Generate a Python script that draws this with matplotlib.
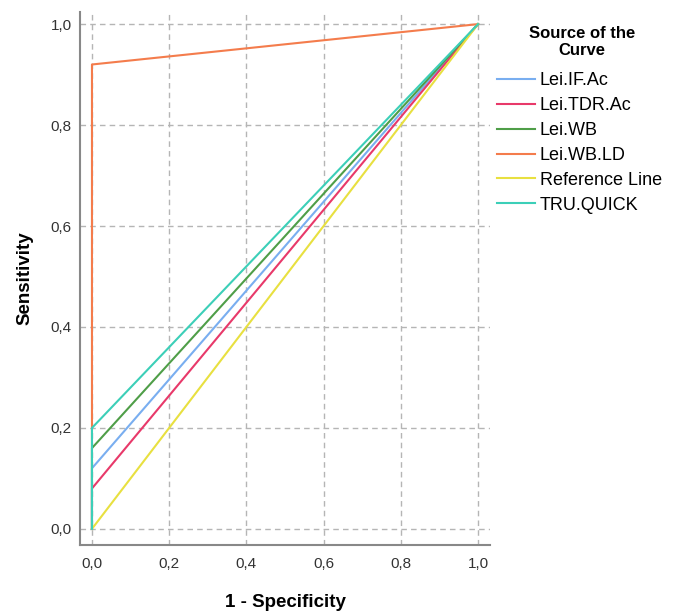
import matplotlib.pyplot as plt
import numpy as np

plt.rcParams['font.family'] = ['Liberation Sans', 'DejaVu Sans']

# ROC curves: each goes (0,0) -> (0, start) -> (1,1)
names = ["Lei.IF.Ac", "Lei.TDR.Ac", "Lei.WB", "Lei.WB.LD", "Reference Line", "TRU.QUICK"]
fpr = [[0.0, 0.0, 1.0], [0.0, 0.0, 1.0], [0.0, 0.0, 1.0],
       [0.0, 0.0, 1.0], [0.0, 1.0], [0.0, 0.0, 1.0]]
tpr = [[0.0, 0.12, 1.0], [0.0, 0.08, 1.0], [0.0, 0.16, 1.0],
       [0.0, 0.92, 1.0], [0.0, 1.0], [0.0, 0.20, 1.0]]
colors = ["#79aef0", "#e8396a", "#4f9e48", "#f47c4c", "#e8e040", "#3ccfb8"]
ticks = [0.0, 0.2, 0.4, 0.6, 0.8, 1.0]
tick_labels = ["0,0", "0,2", "0,4", "0,6", "0,8", "1,0"]

fig = plt.figure(figsize=(6.8, 6.14), dpi=100)
ax = fig.add_axes([80/680, 1-545/614, 410/680, 533/614])

for x, y, c, n in zip(fpr, tpr, colors, names):
    ax.plot(x, y, color=c, linewidth=1.5, label=n)

ax.set_xlim(-0.031, 1.031)
ax.set_ylim(-0.032, 1.024)
ax.set_xticks(ticks)
ax.set_xticklabels(tick_labels)
ax.set_yticks(ticks)
ax.set_yticklabels(tick_labels)
ax.tick_params(length=0, labelsize=11, colors="#333333")
ax.tick_params(axis="x", pad=9)
ax.tick_params(axis="y", pad=6)

ax.grid(True, color="#b5b5b5", linestyle=(0, (4, 3)), linewidth=1.0)
ax.set_axisbelow(True)

ax.spines['right'].set_color('none')
ax.spines['top'].set_color('none')
ax.spines['left'].set_color('#888888')
ax.spines['bottom'].set_color('#888888')
ax.spines['left'].set_linewidth(1.5)
ax.spines['bottom'].set_linewidth(1.5)

ax.set_xlabel("1 - Specificity", fontsize=13.5, fontweight="bold", labelpad=16)
ax.set_ylabel("Sensitivity", fontsize=13.5, fontweight="bold", labelpad=12)

# legend title as separate centered text
fig.text(582/680, 1-42/614, "Source of the\nCurve", ha="center", va="center",
         fontsize=12, fontweight="bold", linespacing=1.15)
leg = ax.legend(loc="upper left", bbox_to_anchor=(497/680, 1-72/614),
                bbox_transform=fig.transFigure, frameon=False, fontsize=13,
                handlelength=2.1, handletextpad=0.28,
                labelspacing=0.44, borderaxespad=0, borderpad=0)

plt.savefig("out.png", dpi=100)
